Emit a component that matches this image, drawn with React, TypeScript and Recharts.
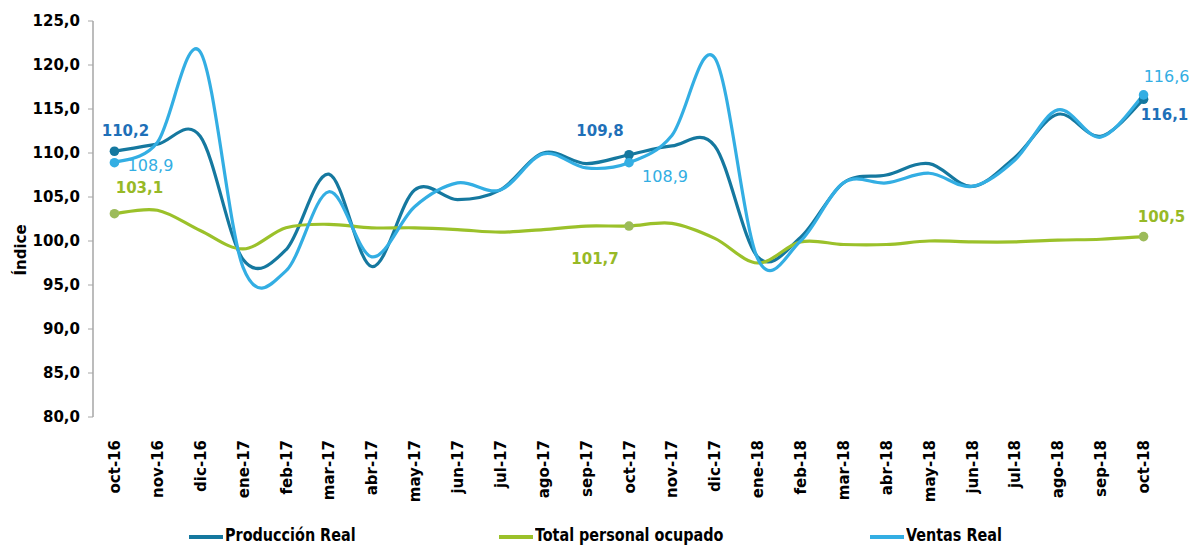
import React from 'react';
import { LineChart, Line, XAxis, YAxis, Legend, LabelList } from 'recharts';

const months = ['oct-16','nov-16','dic-16','ene-17','feb-17','mar-17','abr-17','may-17','jun-17','jul-17','ago-17','sep-17','oct-17','nov-17','dic-17','ene-18','feb-18','mar-18','abr-18','may-18','jun-18','jul-18','ago-18','sep-18','oct-18'];

const produccionReal = [110.2,111.0,111.9,97.9,99.0,107.6,97.1,105.8,104.7,105.8,110.0,108.8,109.8,110.8,110.8,98.2,100.4,106.6,107.5,108.8,106.2,109.5,114.4,111.9,116.1];
const personalOcupado = [103.1,103.5,101.2,99.1,101.5,101.9,101.5,101.5,101.3,101.0,101.3,101.7,101.7,102.0,100.3,97.5,99.9,99.6,99.6,100.0,99.9,99.9,100.1,100.2,100.5];
const ventasReal = [108.9,111.2,121.5,97.0,96.6,105.6,98.2,103.9,106.6,105.8,109.9,108.3,108.9,112.0,120.8,98.0,100.0,106.6,106.6,107.7,106.2,109.2,114.9,111.8,116.6];

const yTicks = [80, 85, 90, 95, 100, 105, 110, 115, 120, 125];
const labeledIdx = [0, 12, 24];

const data = months.map((m, i) => ({
  i,
  m,
  prod: produccionReal[i],
  pers: personalOcupado[i],
  vent: ventasReal[i],
}));

const boundaryTicks = months.map((_, i) => i - 0.5).concat([months.length - 0.5]);
const centerTicks = months.map((_, i) => i);

const FONT = "'DejaVu Sans', sans-serif";
const COL_PROD = '#15789F';
const COL_PERS = '#9BC12A';
const COL_VENT = '#33AEE3';
const COL_PROD_LBL = '#1F70B8';
const COL_PERS_LBL = '#97B926';
const COL_PERS_DOT = '#9CBB5A';
const AXIS = '#A6A6A6';

// Excel-like smoothed line (Catmull-Rom via cubic Bezier)
const excelCurve: any = (context: any) => {
  let pts: number[][] = [];
  return {
    areaStart() {},
    areaEnd() {},
    lineStart() { pts = []; },
    point(x: number, y: number) { pts.push([+x, +y]); },
    lineEnd() {
      const n = pts.length;
      if (!n) return;
      context.moveTo(pts[0][0], pts[0][1]);
      for (let k = 0; k < n - 1; k++) {
        const p0 = pts[Math.max(0, k - 1)];
        const p1 = pts[k];
        const p2 = pts[k + 1];
        const p3 = pts[Math.min(n - 1, k + 2)];
        context.bezierCurveTo(
          p1[0] + (p2[0] - p0[0]) / 6, p1[1] + (p2[1] - p0[1]) / 6,
          p2[0] - (p3[0] - p1[0]) / 6, p2[1] - (p3[1] - p1[1]) / 6,
          p2[0], p2[1]
        );
      }
    },
  };
};

const fmt = (v: number) => v.toFixed(1).replace('.', ',');

const labelStyle: Record<string, { color: string; weight: number; size: number; off: number[][] }> = {
  prod: { color: COL_PROD_LBL, weight: 700, size: 15, off: [[11, -20], [-29, -24], [21, 16]] },
  vent: { color: COL_VENT, weight: 400, size: 16, off: [[36, 3], [36, 14], [23, -18]] },
  pers: { color: COL_PERS_LBL, weight: 700, size: 15, off: [[25, -26], [-34, 33], [18, -20]] },
};

const makeLabel = (key: string) => (props: any) => {
  const { x, y, value, index } = props;
  const k = labeledIdx.indexOf(index);
  if (k < 0) return null;
  const s = labelStyle[key];
  return (
    <text
      key={`${key}-l-${index}`}
      x={x + s.off[k][0]}
      y={y + s.off[k][1]}
      textAnchor="middle"
      dominantBaseline="central"
      fill={s.color}
      fontFamily={FONT}
      fontWeight={s.weight}
      fontSize={s.size}
    >
      {fmt(value)}
    </text>
  );
};

const makeDot = (color: string, key: string) => (props: any) => {
  const { cx, cy, index } = props;
  if (!labeledIdx.includes(index)) return <g key={`${key}-d-${index}`} />;
  return <circle key={`${key}-d-${index}`} cx={cx} cy={cy} r={4.8} fill={color} stroke="none" />;
};

const XTick = (props: any) => {
  const { x, y, payload } = props;
  return (
    <text
      transform={`translate(${x},${y}) rotate(-90)`}
      x={-15}
      y={0}
      dy="0.37em"
      textAnchor="end"
      fontFamily={FONT}
      fontWeight={700}
      fontSize={15}
      fill="#000"
    >
      {months[payload.value]}
    </text>
  );
};

const legendItems = [
  { name: 'Producción Real', color: COL_PROD },
  { name: 'Total personal ocupado', color: COL_PERS },
  { name: 'Ventas Real', color: COL_VENT },
];

const LegendContent = () => (
  <div style={{ display: 'flex', justifyContent: 'center', gap: 143, height: 20, alignItems: 'center' }}>
    {legendItems.map((it) => (
      <div key={it.name} style={{ display: 'flex', alignItems: 'center' }}>
        <div style={{ width: 34, height: 4, background: it.color, marginRight: 2, marginTop: 3 }} />
        <span
          style={{
            display: 'inline-block',
            fontFamily: "'DejaVu Sans Condensed', 'DejaVu Sans', sans-serif",
            fontStretch: 'condensed',
            fontWeight: 700,
            fontSize: 17,
            lineHeight: '20px',
            color: '#000',
            whiteSpace: 'nowrap',
            transform: 'scaleX(0.94)',
            transformOrigin: 'left center',
            marginRight: -8,
          }}
        >
          {it.name}
        </span>
      </div>
    ))}
  </div>
);

export default function App() {
  return (
    <div style={{ position: 'absolute', left: 0, top: 0, width: 1189, height: 546, background: '#fff', overflow: 'hidden' }}>
      <LineChart width={1189} height={546} data={data} margin={{ top: 21, right: 24, bottom: 0, left: 0 }}>
        <XAxis
          xAxisId="tk"
          type="number"
          dataKey="i"
          domain={[-0.5, months.length - 0.5]}
          ticks={boundaryTicks}
          tick={false}
          tickSize={6}
          tickLine={{ stroke: AXIS }}
          axisLine={{ stroke: AXIS, strokeWidth: 1.5 }}
          height={0}
          interval={0}
          allowDataOverflow
        />
        <XAxis
          xAxisId="lb"
          type="number"
          dataKey="i"
          domain={[-0.5, months.length - 0.5]}
          ticks={centerTicks}
          tick={<XTick />}
          tickLine={false}
          axisLine={false}
          height={109}
          interval={0}
          allowDataOverflow
        />
        <YAxis
          domain={[80, 125]}
          ticks={yTicks}
          width={93}
          tickFormatter={fmt}
          tickSize={5}
          tickMargin={8}
          tickLine={{ stroke: AXIS }}
          axisLine={{ stroke: AXIS, strokeWidth: 1.5 }}
          tick={{ fontFamily: FONT, fontWeight: 700, fontSize: 15, fill: '#000' }}
          label={{
            value: 'Índice',
            angle: -90,
            position: 'insideLeft',
            offset: 21,
            dy: 31,
            style: { textAnchor: 'middle', fontFamily: FONT, fontWeight: 700, fontSize: 15, fill: '#000' },
          }}
          allowDataOverflow
        />
        <Legend
          verticalAlign="bottom"
          content={<LegendContent />}
          wrapperStyle={{ left: 0, top: 525, bottom: 'auto', width: 1189, height: 20 }}
        />
        <Line
          xAxisId="lb"
          name="Producción Real"
          dataKey="prod"
          type={excelCurve}
          stroke={COL_PROD}
          strokeWidth={3.2}
          dot={makeDot(COL_PROD, 'prod')}
          activeDot={false}
          isAnimationActive={false}
        >
          <LabelList dataKey="prod" content={makeLabel('prod')} />
        </Line>
        <Line
          xAxisId="lb"
          name="Total personal ocupado"
          dataKey="pers"
          type={excelCurve}
          stroke={COL_PERS}
          strokeWidth={3.2}
          dot={makeDot(COL_PERS_DOT, 'pers')}
          activeDot={false}
          isAnimationActive={false}
        >
          <LabelList dataKey="pers" content={makeLabel('pers')} />
        </Line>
        <Line
          xAxisId="lb"
          name="Ventas Real"
          dataKey="vent"
          type={excelCurve}
          stroke={COL_VENT}
          strokeWidth={3.2}
          dot={makeDot(COL_VENT, 'vent')}
          activeDot={false}
          isAnimationActive={false}
        >
          <LabelList dataKey="vent" content={makeLabel('vent')} />
        </Line>
      </LineChart>
    </div>
  );
}
